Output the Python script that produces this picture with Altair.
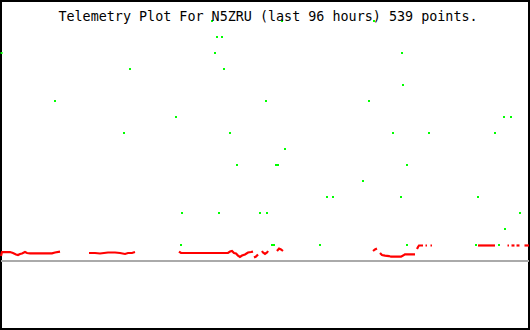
import altair as alt
import pandas as pd

TITLE = "Telemetry Plot For N5ZRU (last 96 hours) 539 points."

# Red telemetry trace: segment id, hours into window, value
red_seg = [
    "A"] * 14 + ["B"] * 10 + ["C"] * 14 + ["D"] * 3 + ["E"] * 5 + ["F"] * 4 + \
    ["G1"] * 3 + ["G2"] * 9 + ["H"] * 4 + ["H2"] * 2 + ["H3"] * 2 + ["I"] * 2 + \
    ["J"] * 2 + ["K"] * 2 + ["L"] * 2 + ["M"] * 2
red_hours = [
    0.0, 0.18, 1.64, 2.18, 2.73, 3.09, 3.45, 3.82, 4.36, 4.73, 5.27, 9.27, 9.82, 10.73,
    16.0, 17.09, 18.0, 19.45, 20.73, 21.64, 22.55, 23.09, 23.82, 24.36,
    32.36, 32.73, 41.27, 41.64, 42.0, 42.36, 42.73, 43.09, 43.45, 43.82, 44.36, 44.91, 45.45, 45.82,
    46.0, 46.36, 46.73,
    47.45, 47.64, 48.0, 48.36, 48.55,
    50.18, 50.55, 50.91, 51.27,
    67.64, 68.0, 68.36,
    68.91, 69.27, 69.82, 70.55, 70.91, 72.73, 73.09, 73.45, 75.27,
    75.64, 75.82, 76.0, 76.73,
    77.18, 77.45,
    78.09, 78.36,
    86.73, 89.82,
    92.09, 92.36,
    92.82, 93.36,
    93.73, 94.27,
    95.18, 96.0,
]
red_values = [
    0.31, 0.56, 0.56, 0.50, 0.41, 0.375, 0.44, 0.47, 0.56, 0.50, 0.48, 0.48, 0.53, 0.59,
    0.50, 0.50, 0.47, 0.53, 0.53, 0.50, 0.44, 0.50, 0.50, 0.56,
    0.59, 0.50, 0.50, 0.59, 0.625, 0.50, 0.47, 0.34, 0.25, 0.34, 0.41, 0.53, 0.56, 0.59,
    0.22, 0.28, 0.41,
    0.625, 0.53, 0.44, 0.53, 0.625,
    0.625, 0.78, 0.72, 0.625,
    0.625, 0.72, 0.78,
    0.50, 0.375, 0.34, 0.31, 0.27, 0.27, 0.34, 0.42, 0.42,
    0.75, 0.875, 0.97, 0.97,
    0.97, 0.97,
    0.97, 0.97,
    0.97, 0.97,
    0.97, 0.97,
    0.97, 0.97,
    0.97, 0.97,
    0.97, 0.97,
]

# Green telemetry samples: hours into window, level
green_hours = [
    38.36, 51.09, 67.82,
    39.27, 40.18,
    0.1, 38.91, 72.91,
    23.45, 40.55,
    73.09,
    9.82, 48.18, 66.91,
    31.82, 91.45, 92.73,
    22.36, 41.64, 71.27, 77.82, 89.82,
    51.64,
    42.91, 50.0, 50.36, 73.82,
    65.82,
    59.27, 60.36, 72.73, 86.73,
    32.91, 39.64, 47.09, 48.36, 94.36,
    91.64,
    32.73, 49.27, 49.64, 58.0, 73.82, 86.36, 90.55,
]
green_values = [
    15, 15, 15,
    14, 14,
    13, 13, 13,
    12, 12,
    11,
    10, 10, 10,
    9, 9, 9,
    8, 8, 8, 8, 8,
    7,
    6, 6, 6, 6,
    5,
    4, 4, 4, 4,
    3, 3, 3, 3, 3,
    2,
    1, 1, 1, 1, 1, 1, 1,
]

X_DOMAIN = [0, 96]
Y_DOMAIN = [-4.25, 16.25]

red_df = pd.DataFrame({"seg": red_seg, "h": red_hours, "v": red_values})
green_df = pd.DataFrame({"h": green_hours, "v": green_values})
zero_df = pd.DataFrame({"v": [0]})
title_df = pd.DataFrame({"t": [TITLE]})

xs = alt.Scale(domain=X_DOMAIN, nice=False, zero=False)
ys = alt.Scale(domain=Y_DOMAIN, nice=False, zero=False)

zero_line = alt.Chart(zero_df).mark_rule(color="#aaaaaa", strokeWidth=2).encode(
    y=alt.Y("v:Q", scale=ys, axis=None),
    x=alt.value(0), x2=alt.value(528),
)

red = alt.Chart(red_df).mark_line(color="#ff0000", strokeWidth=2.2).encode(
    x=alt.X("h:Q", scale=xs, axis=None),
    y=alt.Y("v:Q", scale=ys, axis=None),
    detail="seg:N",
    order="h:Q",
)

green = alt.Chart(green_df).mark_square(color="#00ff00", size=4, opacity=1, filled=True).encode(
    x=alt.X("h:Q", scale=xs, axis=None),
    y=alt.Y("v:Q", scale=ys, axis=None),
)

title = alt.Chart(title_df).mark_text(
    font="DejaVu Sans Mono", fontSize=13.4, color="black",
    align="center", baseline="middle",
).encode(text="t:N", x=alt.value(267), y=alt.value(16))

chart = alt.layer(zero_line, green, red, title).properties(
    width=528, height=328, padding=1, autosize=alt.AutoSizeParams(type="none"),
    background="white",
).configure_view(stroke="black", strokeWidth=2)

chart.save("out.html", embed_options={"renderer": "svg", "actions": False})
